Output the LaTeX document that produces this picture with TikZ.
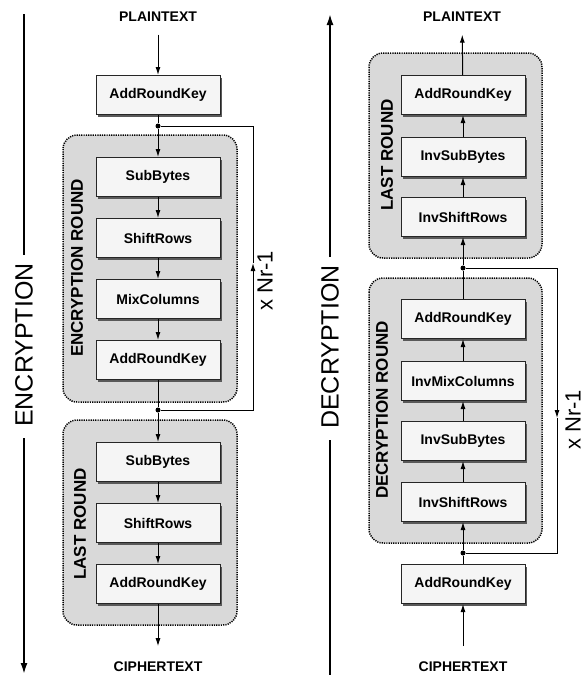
\documentclass[tikz,border=0pt]{standalone}
\usepackage{fontspec}
\setmainfont{Liberation Sans}
\usetikzlibrary{arrows.meta}
\usetikzlibrary{shadows}

\begin{document}
\begin{tikzpicture}[x=1pt,y=-1pt,>={Latex[length=8pt,width=5pt]},
    every path/.style={line width=1pt},
    opbox/.style={draw=black!85,fill=black!4,minimum width=124pt,minimum height=39pt,
      inner sep=0pt,font=\fontsize{14}{16}\selectfont\bfseries,
      drop shadow={shadow xshift=1.5pt,shadow yshift=-2pt,fill=black!65,opacity=1}},
    roundgroup/.style={draw,fill=black!15,line width=1.5pt,dash pattern=on 1.2pt off 1.1pt,rounded corners=14pt},
    grouplabel/.style={rotate=90,font=\fontsize{17}{20}\selectfont\bfseries},
    textlabel/.style={font=\fontsize{14}{16}\selectfont\bfseries},
    sidelabel/.style={rotate=90,font=\fontsize{25}{30}\selectfont},
    sideline/.style={line width=1.8pt,>={Latex[length=11pt,width=7pt]}},
    nrlabel/.style={rotate=90,font=\fontsize{22}{26}\selectfont},
    dot/.style={circle,fill,inner sep=0pt,minimum size=5pt}]
  \useasboundingbox (0,0) rectangle (585,675);

  % round groups
  \draw[roundgroup] (63,135) rectangle (237,402);
  \draw[roundgroup] (63,420) rectangle (237,625);
  \draw[roundgroup] (369,53) rectangle (542,258);
  \draw[roundgroup] (369,278) rectangle (542,543);

  % encryption
  \begin{scope}[every node/.style={opbox}]
    \node (ark0) at (158,95) {AddRoundKey};
    \node (sb1) at (158,177) {SubBytes};
    \node (sr1) at (158,238) {ShiftRows};
    \node (mc1) at (158,299) {MixColumns};
    \node (ark1) at (158,360) {AddRoundKey};
    \node (sb2) at (158,462) {SubBytes};
    \node (sr2) at (158,523) {ShiftRows};
    \node (ark2) at (158,584) {AddRoundKey};
  \end{scope}
  \node[textlabel] (plain1) at (158,17) {PLAINTEXT};
  \node[textlabel] (cipher1) at (158,667) {CIPHERTEXT};
  \node[dot] (j1) at (158,126) {};
  \node[dot] (j2) at (158,410) {};
  \node[grouplabel] (encround) at (77,268) {ENCRYPTION ROUND};
  \node[grouplabel] (lastenc) at (80,524) {LAST ROUND};
  \node[nrlabel] (nr1) at (265,281) {x Nr-1};
  \coordinate (loop1a) at (253,410);
  \coordinate (loop1b) at (253,263);
  \coordinate (loop1c) at (253,126);

  \path [->] (plain1) edge[shorten <=9pt] (ark0);
  \draw (ark0) -- (j1);
  \path [->] (j1) edge (sb1);
  \path [->] (sb1) edge (sr1);
  \path [->] (sr1) edge (mc1);
  \path [->] (mc1) edge (ark1);
  \draw (ark1) -- (j2);
  \path [->] (j2) edge (sb2);
  \path [->] (sb2) edge (sr2);
  \path [->] (sr2) edge (ark2);
  \path [->] (ark2) edge[shorten >=12pt] (cipher1);
  \draw[->] (j2) -- (loop1a) -- (loop1b);
  \draw (loop1b) -- (loop1c) -- (j1);

  % encryption direction
  \node[sidelabel] (enc) at (24,345) {ENCRYPTION};
  \coordinate (enctop) at (24,14);
  \coordinate (encup) at (24,255);
  \coordinate (encdown) at (24,438);
  \coordinate (encbot) at (24,674);
  \draw[sideline] (enctop) -- (encup);
  \draw[sideline,->] (encdown) -- (encbot);

  % decryption
  \begin{scope}[every node/.style={opbox}]
    \node (dark1) at (463,95) {AddRoundKey};
    \node (isb1) at (463,157) {InvSubBytes};
    \node (isr1) at (463,217) {InvShiftRows};
    \node (ark3) at (463,319) {AddRoundKey};
    \node (imc) at (463,381) {InvMixColumns};
    \node (isb2) at (463,441) {InvSubBytes};
    \node (isr2) at (463,502) {InvShiftRows};
    \node (ark4) at (463,584) {AddRoundKey};
  \end{scope}
  \node[textlabel] (plain2) at (462,17) {PLAINTEXT};
  \node[textlabel] (cipher2) at (463,667) {CIPHERTEXT};
  \node[dot] (j3) at (463,268) {};
  \node[dot] (j4) at (463,553) {};
  \node[grouplabel] (lastdec) at (387,155) {LAST ROUND};
  \node[grouplabel] (decround) at (382,410) {DECRYPTION ROUND};
  \node[nrlabel] (nr2) at (573,420) {x Nr-1};
  \coordinate (loop2a) at (557,268);
  \coordinate (loop2b) at (557,418);
  \coordinate (loop2c) at (557,553);

  \path [->] (cipher2) edge[shorten <=12pt] (ark4);
  \draw (ark4) -- (j4);
  \path [->] (j4) edge (isr2);
  \path [->] (isr2) edge (isb2);
  \path [->] (isb2) edge (imc);
  \path [->] (imc) edge (ark3);
  \draw (ark3) -- (j3);
  \path [->] (j3) edge (isr1);
  \path [->] (isr1) edge (isb1);
  \path [->] (isb1) edge (dark1);
  \path [->] (dark1) edge[shorten >=9pt] (plain2);
  \draw[->] (j3) -- (loop2a) -- (loop2b);
  \draw (loop2b) -- (loop2c) -- (j4);

  % decryption direction
  \node[sidelabel] (dec) at (330,347) {DECRYPTION};
  \coordinate (dectop) at (330,14);
  \coordinate (decup) at (330,257);
  \coordinate (decdown) at (330,440);
  \coordinate (decbot) at (330,675);
  \draw[sideline] (decbot) -- (decdown);
  \draw[sideline,->] (decup) -- (dectop);
\end{tikzpicture}
\end{document}
